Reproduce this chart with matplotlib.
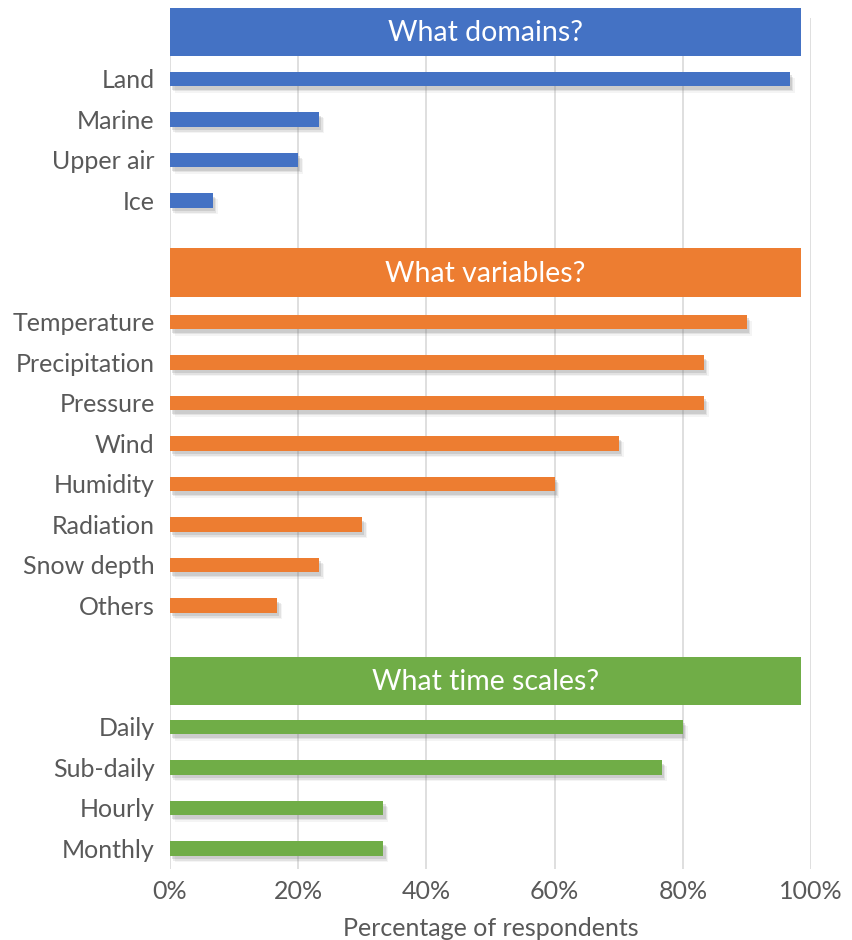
import matplotlib
matplotlib.use("Agg")
import matplotlib.pyplot as plt
import matplotlib.patheffects as pe
from matplotlib.ticker import PercentFormatter

plt.rcParams["font.family"] = ["Lato", "DejaVu Sans"]

# survey answers (% of respondents)
domains = ["Land", "Marine", "Upper air", "Ice"]
domain_pct = [96.7, 23.3, 20.0, 6.7]

variables = ["Temperature", "Precipitation", "Pressure", "Wind", "Humidity",
             "Radiation", "Snow depth", "Others"]
variable_pct = [90.0, 83.3, 83.3, 70.0, 60.0, 30.0, 23.3, 16.7]

timescales = ["Daily", "Sub-daily", "Hourly", "Monthly"]
timescale_pct = [80.0, 76.7, 33.3, 33.3]

headers = ["What domains?", "What variables?", "What time scales?"]

BLUE, ORANGE, GREEN = "#4472C4", "#ED7D31", "#70AD47"
TEXT, GRID = "#595959", "#D9D9D9"

# layout: row slots, with blank slots where the header boxes sit
group_start = [1, 7, 17]
header_span = [(-0.75, 0.43), (5.18, 6.38), (15.27, 16.45)]
header_right = 98.4

fig = plt.figure(figsize=(8.53, 9.40), dpi=100)
ax = fig.add_axes([0.1993, 0.0758, 0.7515, 0.9048])

shadow = [pe.SimplePatchShadow(offset=(1.5, -2.5), shadow_rgbFace="#7f7f7f", alpha=0.22),
          pe.SimplePatchShadow(offset=(2.5, -3.5), shadow_rgbFace="#7f7f7f", alpha=0.15),
          pe.SimplePatchShadow(offset=(3.5, -4.5), shadow_rgbFace="#7f7f7f", alpha=0.08),
          pe.Normal()]

ticks, labels = [], []
groups = [(domains, domain_pct, BLUE), (variables, variable_pct, ORANGE),
          (timescales, timescale_pct, GREEN)]
for (cats, vals, col), start, (h0, h1), title in zip(groups, group_start,
                                                      header_span, headers):
    ys = [start + i for i in range(len(cats))]
    bars = ax.barh(ys, vals, height=0.36, color=col, zorder=3)
    for b in bars:
        b.set_path_effects(shadow)
    ticks += ys
    labels += cats
    ax.barh((h0 + h1) / 2, header_right, height=h1 - h0, color=col, zorder=4,
            clip_on=False)
    ax.text(header_right / 2, (h0 + h1) / 2 + 0.03, title, ha="center", va="center",
            color="white", fontsize=20.5, zorder=5)

ax.set_yticks(ticks)
ax.set_yticklabels(labels)
ax.set_ylim(20.5, -0.5)
ax.set_xlim(0, 100)
ax.set_xticks([0, 20, 40, 60, 80, 100])
ax.xaxis.set_major_formatter(PercentFormatter(decimals=0))
ax.tick_params(axis="both", length=0, labelsize=18, colors=TEXT)
ax.tick_params(axis="y", pad=11)
ax.tick_params(axis="x", pad=8)
ax.set_xlabel("Percentage of respondents", fontsize=18, color=TEXT, labelpad=10)
ax.grid(axis="x", color=GRID, linewidth=1.2, zorder=0)
ax.set_axisbelow(True)
for s in ax.spines.values():
    s.set_visible(False)

fig.savefig("out.png", dpi=100, facecolor="white")
